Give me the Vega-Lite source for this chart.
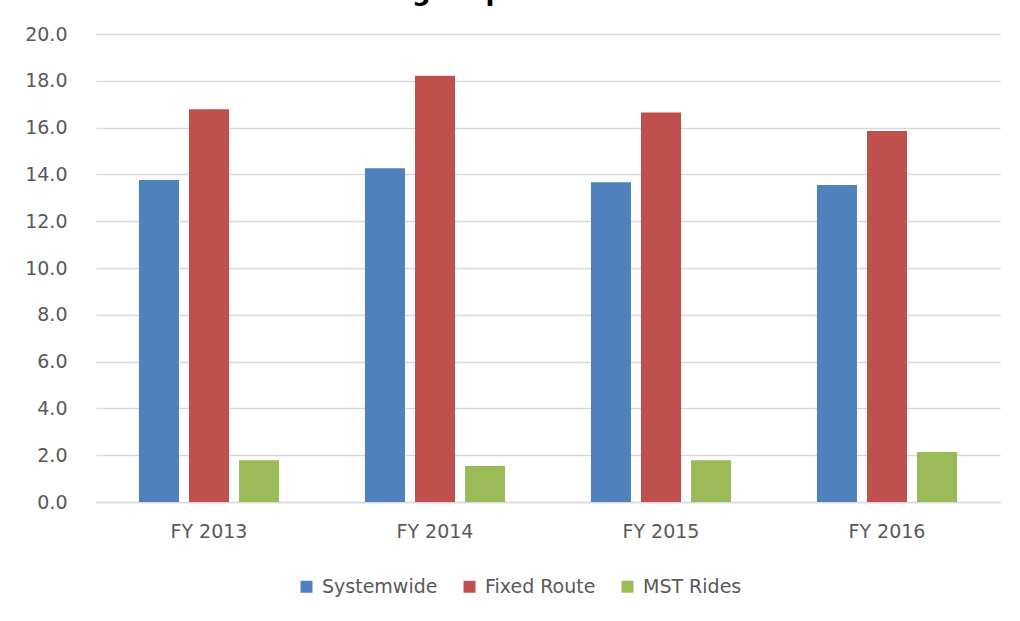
{
  "$schema": "https://vega.github.io/schema/vega-lite/v6.json",
  "width": 904,
  "height": 468,
  "autosize": {"type": "none"},
  "padding": {"left": 96, "top": 34, "right": 20, "bottom": 119},
  "background": "white",
  "title": {
    "text": "Passengers per Revenue Hour",
    "font": "DejaVu Sans",
    "fontSize": 26,
    "fontWeight": "bold",
    "color": "#000000",
    "anchor": "start",
    "frame": "group",
    "dx": 213,
    "offset": -1,
    "baseline": "alphabetic"
  },
  "data": {
    "values": [
      {"year": "FY 2013", "series": "Systemwide", "value": 13.76},
      {"year": "FY 2013", "series": "Fixed Route", "value": 16.78},
      {"year": "FY 2013", "series": "MST Rides", "value": 1.78},
      {"year": "FY 2014", "series": "Systemwide", "value": 14.26},
      {"year": "FY 2014", "series": "Fixed Route", "value": 18.22},
      {"year": "FY 2014", "series": "MST Rides", "value": 1.54},
      {"year": "FY 2015", "series": "Systemwide", "value": 13.66},
      {"year": "FY 2015", "series": "Fixed Route", "value": 16.65},
      {"year": "FY 2015", "series": "MST Rides", "value": 1.78},
      {"year": "FY 2016", "series": "Systemwide", "value": 13.55},
      {"year": "FY 2016", "series": "Fixed Route", "value": 15.85},
      {"year": "FY 2016", "series": "MST Rides", "value": 2.14}
    ]
  },
  "mark": {"type": "bar"},
  "encoding": {
    "x": {
      "field": "year",
      "type": "nominal",
      "scale": {"paddingInner": 0.38, "paddingOuter": 0.19},
      "axis": {
        "title": null,
        "labelAngle": 0,
        "labelFont": "DejaVu Sans",
        "labelFontSize": 19,
        "labelColor": "#595959",
        "labelPadding": 20,
        "ticks": false,
        "domain": true,
        "domainColor": "#D9D9D9",
        "domainWidth": 1.5,
        "grid": false
      }
    },
    "xOffset": {
      "field": "series",
      "type": "nominal",
      "sort": ["Systemwide", "Fixed Route", "MST Rides"],
      "scale": {"paddingInner": 0.2, "paddingOuter": 0}
    },
    "y": {
      "field": "value",
      "type": "quantitative",
      "scale": {"domain": [0, 20], "nice": false},
      "axis": {
        "title": null,
        "values": [0, 2, 4, 6, 8, 10, 12, 14, 16, 18, 20],
        "format": ".1f",
        "labelFont": "DejaVu Sans",
        "labelFontSize": 19,
        "labelColor": "#595959",
        "labelPadding": 29,
        "ticks": false,
        "domain": false,
        "grid": true,
        "gridColor": "#D9D9D9",
        "gridWidth": 1.5
      }
    },
    "color": {
      "field": "series",
      "type": "nominal",
      "sort": ["Systemwide", "Fixed Route", "MST Rides"],
      "scale": {
        "domain": ["Systemwide", "Fixed Route", "MST Rides"],
        "range": ["#4F81BD", "#C0504D", "#9BBB59"]
      },
      "legend": {
        "title": null,
        "orient": "none",
        "direction": "horizontal",
        "legendX": 201,
        "legendY": 543,
        "padding": 0,
        "symbolType": "square",
        "symbolSize": 144,
        "symbolStrokeWidth": 0,
        "symbolOpacity": 1,
        "labelFont": "DejaVu Sans",
        "labelFontSize": 19,
        "labelColor": "#595959",
        "labelOffset": 6,
        "columnPadding": 22
      }
    }
  },
  "config": {"view": {"stroke": null}}
}
